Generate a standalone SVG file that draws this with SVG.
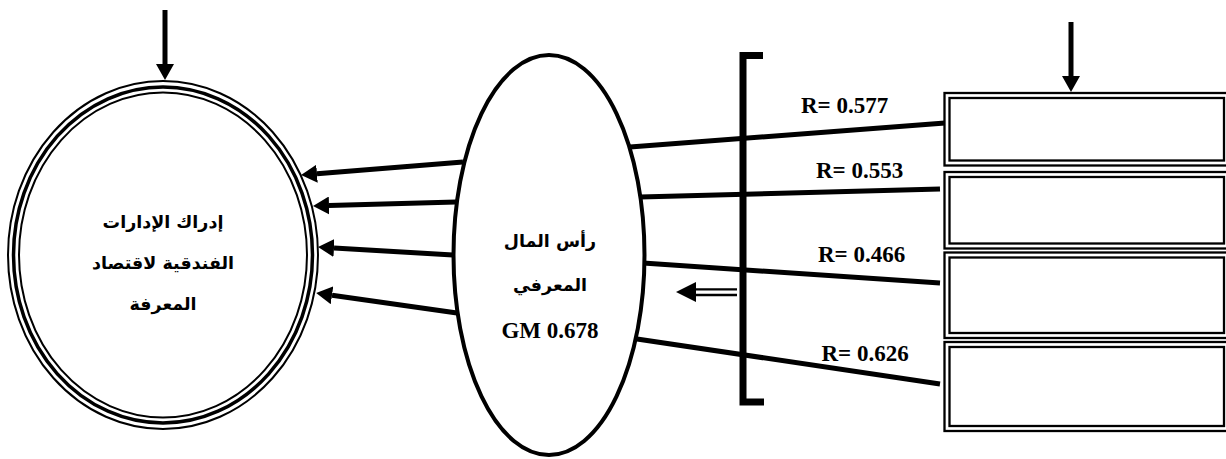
<svg xmlns="http://www.w3.org/2000/svg" width="1226" height="459" viewBox="0 0 1226 459">
<style>
.bg{fill:#fff}
.conn{stroke:#000;stroke-width:5;fill:none}
.thin{stroke:#000;stroke-width:2.3;fill:none}
.ring1{stroke:#000;stroke-width:2;fill:none}
.ring2{stroke:#000;stroke-width:3.5;fill:none}
.boxo{stroke:#000;stroke-width:2.3;fill:#fff}
.boxi{stroke:#000;stroke-width:2.3;fill:none}
.ar{font-family:"DejaVu Sans","Liberation Sans",sans-serif;font-weight:bold;font-size:17.5px;text-anchor:middle;fill:#000}
.lt{font-family:"Liberation Serif","Times New Roman",serif;font-weight:bold;font-size:23px;fill:#000}
</style>
<defs>
<marker id="ah" viewBox="0 -9 16 18" refX="0" refY="0" markerWidth="16" markerHeight="18" markerUnits="userSpaceOnUse" orient="auto">
<path d="M0,-9 L16,0 L0,9 z" fill="#000"/>
</marker>
</defs>
<rect class="bg" x="0" y="0" width="1226" height="459"/>

<g id="connectors">
<line class="conn" x1="165" y1="10" x2="165" y2="64" stroke-width="6" marker-end="url(#ah)"/>
<line class="conn" x1="1071" y1="22" x2="1071" y2="76" stroke-width="6" marker-end="url(#ah)"/>
<line class="conn" x1="463" y1="162" x2="317" y2="173.7" marker-end="url(#ah)"/>
<line class="conn" x1="456" y1="202" x2="329" y2="205.5" marker-end="url(#ah)"/>
<line class="conn" x1="453" y1="255" x2="334" y2="248" marker-end="url(#ah)"/>
<line class="conn" x1="457" y1="313" x2="332" y2="295.3" marker-end="url(#ah)"/>
<line class="conn" x1="630" y1="147" x2="945" y2="123"/>
<line class="conn" x1="640" y1="197" x2="940" y2="189"/>
<line class="conn" x1="643" y1="263" x2="940" y2="283"/>
<line class="conn" x1="637" y1="339" x2="940" y2="384"/>
<path d="M763,55.5 H743 V402 H764" stroke="#000" stroke-width="7" fill="none"/>
<line class="thin" x1="737" y1="289.3" x2="694" y2="289.3"/>
<line class="thin" x1="737" y1="295" x2="694" y2="295"/>
<path d="M676,292 L696,282 L696,302 z" fill="#000"/>
</g>

<g id="node-perception">
<ellipse cx="163" cy="255" rx="155" ry="174" class="ring1" fill="#fff"/>
<ellipse cx="163" cy="255" rx="149.5" ry="168" class="ring2"/>
<ellipse cx="163" cy="255" rx="144" ry="162.5" class="ring1"/>
<text class="ar" x="163" y="228" direction="rtl">إدراك الإدارات</text>
<text class="ar" x="163" y="269" direction="rtl">الفندقية لاقتصاد</text>
<text class="ar" x="163" y="310" direction="rtl">المعرفة</text>
</g>

<g id="node-capital">
<ellipse cx="549" cy="255" rx="95.5" ry="200" stroke="#000" stroke-width="4" fill="#fff"/>
<text class="ar" x="550" y="247" direction="rtl">رأس المال</text>
<text class="ar" x="550" y="291" direction="rtl">المعرفي</text>
<text class="lt" x="550" y="338" text-anchor="middle">GM 0.678</text>
</g>

<g id="labels">
<text class="lt" x="801" y="112.5">R= 0.577</text>
<text class="lt" x="816" y="177.5">R= 0.553</text>
<text class="lt" x="818" y="261.5">R= 0.466</text>
<text class="lt" x="821.5" y="361">R= 0.626</text>
</g>

<g id="box1">
<rect class="boxo" x="944.5" y="93" width="284" height="72.5"/>
<rect class="boxi" x="949.5" y="98" width="274.5" height="62.5"/>
</g>
<g id="box2">
<rect class="boxo" x="944.5" y="172" width="284" height="76.5"/>
<rect class="boxi" x="949.5" y="177" width="274.5" height="66.5"/>
</g>
<g id="box3">
<rect class="boxo" x="944.5" y="252.5" width="284" height="85.5"/>
<rect class="boxi" x="949.5" y="257.5" width="274.5" height="75.5"/>
</g>
<g id="box4">
<rect class="boxo" x="944.5" y="342" width="284" height="89"/>
<rect class="boxi" x="949.5" y="347" width="274.5" height="79"/>
</g>
</svg>
